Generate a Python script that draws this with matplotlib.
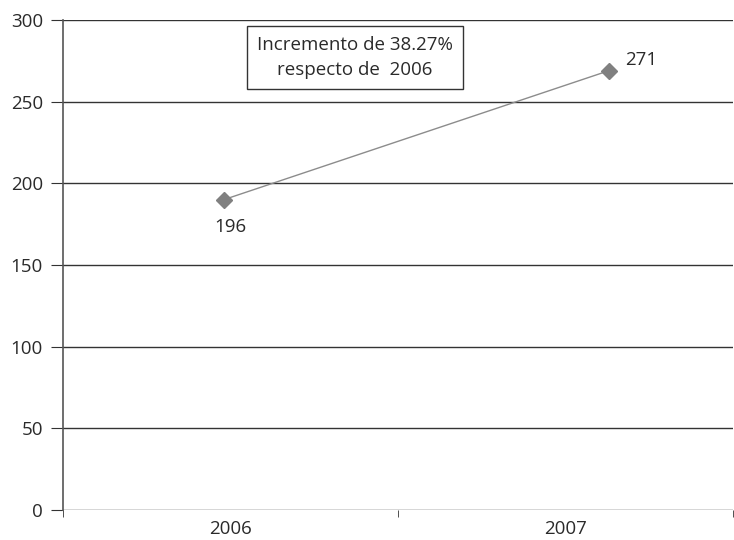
import matplotlib.pyplot as plt
from matplotlib.ticker import FixedLocator

plt.rcParams['font.family'] = ['Open Sans', 'DejaVu Sans']

years = ['2006', '2007']
x_pos = [-0.02, 1.13]        # where the markers sit along the category axis
values = [190, 269]           # marker heights as drawn
point_labels = ['196', '271']
y_ticks = [0, 50, 100, 150, 200, 250, 300]

fs = 13.5
txt = '#2a2a2a'

fig = plt.figure(figsize=(7.34, 5.4), dpi=100)
ax = fig.add_axes([63 / 734, 30 / 540, 670 / 734, 490 / 540])

# horizontal grid
for t in y_ticks:
    ax.axhline(t, color='#333333', lw=1.0, zorder=1)

ax.plot(x_pos, values, color='#8c8c8c', lw=1.0, zorder=2)
ax.plot(x_pos, values, ls='none', marker='D', ms=8.5, color='#808080', zorder=3)

# value labels
ax.annotate(point_labels[0], (x_pos[0], values[0]), xytext=(5, -19.5),
            textcoords='offset points', ha='center', va='center',
            fontsize=fs, color=txt)
ax.annotate(point_labels[1], (x_pos[1], values[1]), xytext=(23, 8),
            textcoords='offset points', ha='center', va='center',
            fontsize=fs, color=txt)

ax.text(0.372, 277, 'Incremento de 38.27%\nrespecto de  2006', ha='center', va='center',
        fontsize=fs, color=txt, linespacing=1.45,
        bbox=dict(boxstyle='square,pad=0.55', fc='white', ec='#333333', lw=1.0))

ax.set_xlim(-0.5, 1.5)
ax.set_ylim(0, 300)
ax.set_yticks(y_ticks)
ax.set_yticklabels([str(t) for t in y_ticks], fontsize=fs, color=txt)
ax.set_xticks([0, 1])
ax.set_xticklabels(years, fontsize=fs, color=txt)
ax.xaxis.set_minor_locator(FixedLocator([-0.5, 0.5, 1.5]))
ax.tick_params(axis='x', which='major', length=0, pad=7)
ax.tick_params(axis='x', which='minor', length=5, color='#333333', direction='out')
ax.tick_params(axis='y', length=8.5, color='#333333', pad=6)

for s in ['top', 'right', 'bottom']:
    ax.spines[s].set_visible(False)
ax.spines['left'].set_color('#555555')
ax.spines['left'].set_linewidth(1.2)

fig.savefig('out.png', dpi=100)
